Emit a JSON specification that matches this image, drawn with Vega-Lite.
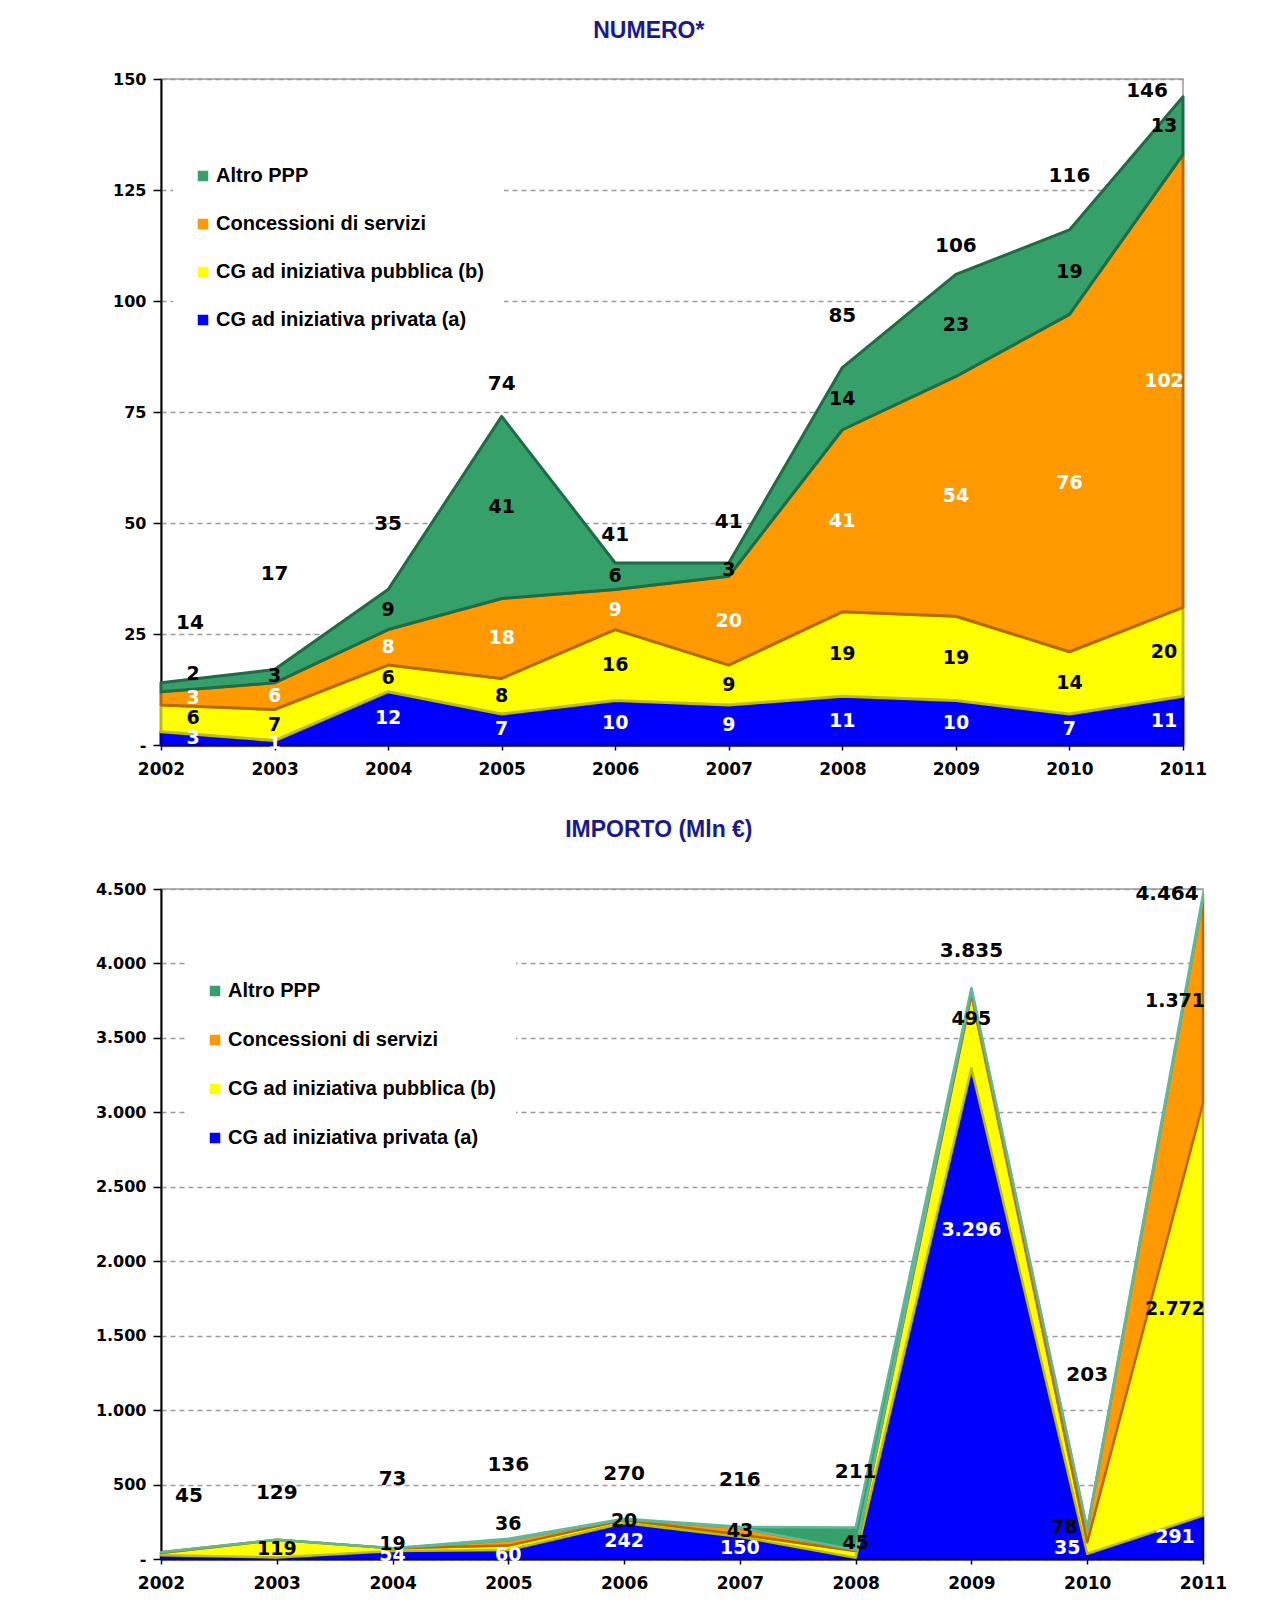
{
  "$schema": "https://vega.github.io/schema/vega-lite/v6.json",
  "padding": {"left": 90, "top": 18, "right": 20, "bottom": 10},
  "background": "white",
  "config": {
    "locale": {"number": {"decimal": ",", "thousands": ".", "grouping": [3], "currency": ["", " €"]}},
    "view": {"stroke": "#9a9a9a", "strokeWidth": 1.5},
    "font": "Liberation Sans",
    "axis": {
      "domainColor": "black", "domainWidth": 2, "tickColor": "black", "tickSize": 8, "tickWidth": 1.5,
      "labelFont": "DejaVu Sans", "labelFontWeight": "bold", "labelFontSize": 16, "labelColor": "black", "labelPadding": 7,
      "labelOverlap": false,
      "gridColor": "#9a9a9a", "gridDash": [5, 4], "gridWidth": 1.3, "title": null
    },
    "title": {"font": "Liberation Sans", "fontSize": 23, "fontWeight": "bold", "color": "#1A1A8C", "frame": "bounds", "anchor": "middle"},
    "legend": {
      "orient": "none", "title": null, "symbolType": "square", "symbolSize": 110, "symbolStrokeWidth": 0,
      "labelFont": "Liberation Sans", "labelFontWeight": "bold", "labelFontSize": 20, "labelColor": "black",
      "fillColor": "white", "padding": 20, "labelOffset": 3, "labelLimit": 500
    }
  },
  "datasets": {
    "numero": [
      {"anno": 2002, "serie": "CG ad iniziativa privata (a)", "valore": 3},
      {"anno": 2002, "serie": "CG ad iniziativa pubblica (b)", "valore": 6},
      {"anno": 2002, "serie": "Concessioni di servizi", "valore": 3},
      {"anno": 2002, "serie": "Altro PPP", "valore": 2},
      {"anno": 2003, "serie": "CG ad iniziativa privata (a)", "valore": 1},
      {"anno": 2003, "serie": "CG ad iniziativa pubblica (b)", "valore": 7},
      {"anno": 2003, "serie": "Concessioni di servizi", "valore": 6},
      {"anno": 2003, "serie": "Altro PPP", "valore": 3},
      {"anno": 2004, "serie": "CG ad iniziativa privata (a)", "valore": 12},
      {"anno": 2004, "serie": "CG ad iniziativa pubblica (b)", "valore": 6},
      {"anno": 2004, "serie": "Concessioni di servizi", "valore": 8},
      {"anno": 2004, "serie": "Altro PPP", "valore": 9},
      {"anno": 2005, "serie": "CG ad iniziativa privata (a)", "valore": 7},
      {"anno": 2005, "serie": "CG ad iniziativa pubblica (b)", "valore": 8},
      {"anno": 2005, "serie": "Concessioni di servizi", "valore": 18},
      {"anno": 2005, "serie": "Altro PPP", "valore": 41},
      {"anno": 2006, "serie": "CG ad iniziativa privata (a)", "valore": 10},
      {"anno": 2006, "serie": "CG ad iniziativa pubblica (b)", "valore": 16},
      {"anno": 2006, "serie": "Concessioni di servizi", "valore": 9},
      {"anno": 2006, "serie": "Altro PPP", "valore": 6},
      {"anno": 2007, "serie": "CG ad iniziativa privata (a)", "valore": 9},
      {"anno": 2007, "serie": "CG ad iniziativa pubblica (b)", "valore": 9},
      {"anno": 2007, "serie": "Concessioni di servizi", "valore": 20},
      {"anno": 2007, "serie": "Altro PPP", "valore": 3},
      {"anno": 2008, "serie": "CG ad iniziativa privata (a)", "valore": 11},
      {"anno": 2008, "serie": "CG ad iniziativa pubblica (b)", "valore": 19},
      {"anno": 2008, "serie": "Concessioni di servizi", "valore": 41},
      {"anno": 2008, "serie": "Altro PPP", "valore": 14},
      {"anno": 2009, "serie": "CG ad iniziativa privata (a)", "valore": 10},
      {"anno": 2009, "serie": "CG ad iniziativa pubblica (b)", "valore": 19},
      {"anno": 2009, "serie": "Concessioni di servizi", "valore": 54},
      {"anno": 2009, "serie": "Altro PPP", "valore": 23},
      {"anno": 2010, "serie": "CG ad iniziativa privata (a)", "valore": 7},
      {"anno": 2010, "serie": "CG ad iniziativa pubblica (b)", "valore": 14},
      {"anno": 2010, "serie": "Concessioni di servizi", "valore": 76},
      {"anno": 2010, "serie": "Altro PPP", "valore": 19},
      {"anno": 2011, "serie": "CG ad iniziativa privata (a)", "valore": 11},
      {"anno": 2011, "serie": "CG ad iniziativa pubblica (b)", "valore": 20},
      {"anno": 2011, "serie": "Concessioni di servizi", "valore": 102},
      {"anno": 2011, "serie": "Altro PPP", "valore": 13}
    ],
    "importo": [
      {"anno": 2002, "serie": "CG ad iniziativa privata (a)", "valore": 25, "etichetta": false},
      {"anno": 2002, "serie": "CG ad iniziativa pubblica (b)", "valore": 15, "etichetta": false},
      {"anno": 2002, "serie": "Concessioni di servizi", "valore": 5, "etichetta": false},
      {"anno": 2002, "serie": "Altro PPP", "valore": 0, "etichetta": false},
      {"anno": 2003, "serie": "CG ad iniziativa privata (a)", "valore": 10, "etichetta": false},
      {"anno": 2003, "serie": "CG ad iniziativa pubblica (b)", "valore": 119, "etichetta": true},
      {"anno": 2003, "serie": "Concessioni di servizi", "valore": 0, "etichetta": false},
      {"anno": 2003, "serie": "Altro PPP", "valore": 0, "etichetta": false},
      {"anno": 2004, "serie": "CG ad iniziativa privata (a)", "valore": 54, "etichetta": true},
      {"anno": 2004, "serie": "CG ad iniziativa pubblica (b)", "valore": 19, "etichetta": true},
      {"anno": 2004, "serie": "Concessioni di servizi", "valore": 0, "etichetta": false},
      {"anno": 2004, "serie": "Altro PPP", "valore": 0, "etichetta": false},
      {"anno": 2005, "serie": "CG ad iniziativa privata (a)", "valore": 60, "etichetta": true},
      {"anno": 2005, "serie": "CG ad iniziativa pubblica (b)", "valore": 30, "etichetta": false},
      {"anno": 2005, "serie": "Concessioni di servizi", "valore": 36, "etichetta": true},
      {"anno": 2005, "serie": "Altro PPP", "valore": 10, "etichetta": false},
      {"anno": 2006, "serie": "CG ad iniziativa privata (a)", "valore": 242, "etichetta": true},
      {"anno": 2006, "serie": "CG ad iniziativa pubblica (b)", "valore": 20, "etichetta": true},
      {"anno": 2006, "serie": "Concessioni di servizi", "valore": 5, "etichetta": false},
      {"anno": 2006, "serie": "Altro PPP", "valore": 3, "etichetta": false},
      {"anno": 2007, "serie": "CG ad iniziativa privata (a)", "valore": 150, "etichetta": true},
      {"anno": 2007, "serie": "CG ad iniziativa pubblica (b)", "valore": 15, "etichetta": false},
      {"anno": 2007, "serie": "Concessioni di servizi", "valore": 43, "etichetta": true},
      {"anno": 2007, "serie": "Altro PPP", "valore": 8, "etichetta": false},
      {"anno": 2008, "serie": "CG ad iniziativa privata (a)", "valore": 8, "etichetta": false},
      {"anno": 2008, "serie": "CG ad iniziativa pubblica (b)", "valore": 45, "etichetta": true},
      {"anno": 2008, "serie": "Concessioni di servizi", "valore": 8, "etichetta": false},
      {"anno": 2008, "serie": "Altro PPP", "valore": 150, "etichetta": false},
      {"anno": 2009, "serie": "CG ad iniziativa privata (a)", "valore": 3296, "etichetta": true},
      {"anno": 2009, "serie": "CG ad iniziativa pubblica (b)", "valore": 495, "etichetta": true},
      {"anno": 2009, "serie": "Concessioni di servizi", "valore": 30, "etichetta": false},
      {"anno": 2009, "serie": "Altro PPP", "valore": 14, "etichetta": false},
      {"anno": 2010, "serie": "CG ad iniziativa privata (a)", "valore": 35, "etichetta": true},
      {"anno": 2010, "serie": "CG ad iniziativa pubblica (b)", "valore": 78, "etichetta": true},
      {"anno": 2010, "serie": "Concessioni di servizi", "valore": 85, "etichetta": false},
      {"anno": 2010, "serie": "Altro PPP", "valore": 5, "etichetta": false},
      {"anno": 2011, "serie": "CG ad iniziativa privata (a)", "valore": 291, "etichetta": true},
      {"anno": 2011, "serie": "CG ad iniziativa pubblica (b)", "valore": 2772, "etichetta": true},
      {"anno": 2011, "serie": "Concessioni di servizi", "valore": 1371, "etichetta": true},
      {"anno": 2011, "serie": "Altro PPP", "valore": 30, "etichetta": false}
    ]
  },
  "columns": 1,
  "spacing": 39,
  "resolve": {"scale": {"color": "independent", "stroke": "independent"}, "legend": {"color": "independent"}},
  "concat": [
    {
      "title": {"text": "NUMERO*", "offset": 28.5},
      "width": 1022,
      "height": 666,
      "data": {"name": "numero"},
      "transform": [
        {"calculate": "indexof(['CG ad iniziativa privata (a)','CG ad iniziativa pubblica (b)','Concessioni di servizi','Altro PPP'], datum.serie)", "as": "ordine"},
        {"stack": "valore", "groupby": ["anno"], "sort": [{"field": "ordine"}], "as": ["v0", "v1"]},
        {"calculate": "(datum.v0 + datum.v1) / 2", "as": "mezzo"},
        {"joinaggregate": [{"op": "sum", "field": "valore", "as": "totale"}], "groupby": ["anno"]}
      ],
      "layer": [
        {
          "mark": {"type": "area", "strokeWidth": 3, "strokeJoin": "round", "opacity": 1},
          "encoding": {
            "x": {"field": "anno", "type": "quantitative", "scale": {"domain": [2002, 2011], "nice": false, "zero": false},
                  "axis": {"values": [2002, 2003, 2004, 2005, 2006, 2007, 2008, 2009, 2010, 2011], "format": "d", "grid": false, "labelFlush": false, "labelFontSize": 17, "tickSize": 5, "labelPadding": 11}},
            "y": {"field": "v1", "type": "quantitative", "scale": {"domain": [0, 150], "nice": false},
                  "axis": {"values": [0, 25, 50, 75, 100, 125, 150], "labelExpr": "datum.value == 0 ? '-' : datum.label", "minExtent": 70, "maxExtent": 70}},
            "y2": {"field": "v0"},
            "color": {"field": "serie", "type": "nominal",
                      "scale": {"domain": ["Altro PPP", "Concessioni di servizi", "CG ad iniziativa pubblica (b)", "CG ad iniziativa privata (a)"],
                                "range": ["#36A06A", "#FF9900", "#FFFF00", "#0000FF"]},
                      "legend": {"legendX": 12, "legendY": 67, "rowPadding": 28}},
            "stroke": {"field": "serie", "type": "nominal",
                       "scale": {"domain": ["Altro PPP", "Concessioni di servizi", "CG ad iniziativa pubblica (b)", "CG ad iniziativa privata (a)"],
                                 "range": ["#1E6B45", "#B86A00", "#BDBD00", "#0000A8"]},
                       "legend": null},
            "order": {"field": "ordine"}
          }
        },
        {
          "mark": {"type": "text", "font": "DejaVu Sans", "fontWeight": "bold", "fontSize": 19,
                   "dx": {"expr": "datum.anno == 2002 ? 32 : (datum.anno == 2011 ? -19 : 0)"},
                   "dy": {"expr": "datum.anno == 2002 && datum.ordine == 3 ? -13 : 0"}},
          "encoding": {
            "x": {"field": "anno", "type": "quantitative"},
            "y": {"field": "mezzo", "type": "quantitative"},
            "text": {"field": "valore", "type": "quantitative", "format": ",d"},
            "color": {"condition": {"test": "datum.serie == 'CG ad iniziativa privata (a)' || datum.serie == 'Concessioni di servizi'", "value": "white"}, "value": "black"}
          }
        },
        {
          "transform": [{"filter": "datum.ordine == 3"}],
          "mark": {"type": "text", "font": "DejaVu Sans", "fontWeight": "bold", "fontSize": 20, "color": "black",
                   "dx": {"expr": "datum.anno == 2002 ? 29 : (datum.anno == 2011 ? -36 : 0)"},
                   "dy": {"expr": "[-60, -96, -66, -32, -28, -41, -52, -28, -54, -6][datum.anno - 2002]"}},
          "encoding": {
            "x": {"field": "anno", "type": "quantitative"},
            "y": {"field": "v1", "type": "quantitative"},
            "text": {"field": "totale", "type": "quantitative", "format": ",d"}
          }
        }
      ]
    },
    {
      "title": {"text": "IMPORTO (Mln €)", "offset": 39.5},
      "width": 1042,
      "height": 670,
      "data": {"name": "importo"},
      "transform": [
        {"calculate": "indexof(['CG ad iniziativa privata (a)','CG ad iniziativa pubblica (b)','Concessioni di servizi','Altro PPP'], datum.serie)", "as": "ordine"},
        {"stack": "valore", "groupby": ["anno"], "sort": [{"field": "ordine"}], "as": ["v0", "v1"]},
        {"calculate": "(datum.v0 + datum.v1) / 2", "as": "mezzo"},
        {"joinaggregate": [{"op": "sum", "field": "valore", "as": "totale"}], "groupby": ["anno"]}
      ],
      "layer": [
        {
          "mark": {"type": "area", "strokeWidth": 2.5, "strokeJoin": "round", "opacity": 1},
          "encoding": {
            "x": {"field": "anno", "type": "quantitative", "scale": {"domain": [2002, 2011], "nice": false, "zero": false},
                  "axis": {"values": [2002, 2003, 2004, 2005, 2006, 2007, 2008, 2009, 2010, 2011], "format": "d", "grid": false, "labelFlush": false, "labelFontSize": 17, "tickSize": 5, "labelPadding": 11}},
            "y": {"field": "v1", "type": "quantitative", "scale": {"domain": [0, 4500], "nice": false},
                  "axis": {"values": [0, 500, 1000, 1500, 2000, 2500, 3000, 3500, 4000, 4500], "format": ",d", "labelExpr": "datum.value == 0 ? '-' : datum.label", "minExtent": 70, "maxExtent": 70}},
            "y2": {"field": "v0"},
            "color": {"field": "serie", "type": "nominal",
                      "scale": {"domain": ["Altro PPP", "Concessioni di servizi", "CG ad iniziativa pubblica (b)", "CG ad iniziativa privata (a)"],
                                "range": ["#36A06A", "#FF9900", "#FFFF00", "#0000FF"]},
                      "legend": {"legendX": 24, "legendY": 72, "rowPadding": 29}},
            "stroke": {"field": "serie", "type": "nominal",
                       "scale": {"domain": ["Altro PPP", "Concessioni di servizi", "CG ad iniziativa pubblica (b)", "CG ad iniziativa privata (a)"],
                                 "range": ["#5FB89A", "#B86A00", "#BDBD00", "#0000A8"]},
                       "legend": null},
            "order": {"field": "ordine"}
          }
        },
        {
          "transform": [{"filter": "datum.etichetta"}],
          "mark": {"type": "text", "font": "DejaVu Sans", "fontWeight": "bold", "fontSize": 19,
                   "dx": {"expr": "datum.anno == 2002 ? 28 : (datum.anno == 2011 ? -28 : (datum.anno == 2010 ? (datum.ordine == 1 ? -23 : -20) : 0))"},
                   "dy": {"expr": "datum.anno == 2010 ? (datum.ordine == 1 ? -21 : -8) : (datum.anno == 2004 && datum.ordine == 1 ? -6 : (datum.anno == 2005 && datum.ordine == 2 ? -19 : (datum.anno == 2008 ? -11 : (datum.anno == 2009 ? (datum.ordine == 0 ? -84 : -12) : 0))))"}},
          "encoding": {
            "x": {"field": "anno", "type": "quantitative"},
            "y": {"field": "mezzo", "type": "quantitative"},
            "text": {"field": "valore", "type": "quantitative", "format": ",d"},
            "color": {"condition": {"test": "datum.serie == 'CG ad iniziativa privata (a)'", "value": "white"}, "value": "black"}
          }
        },
        {
          "transform": [{"filter": "datum.ordine == 3"}],
          "mark": {"type": "text", "font": "DejaVu Sans", "fontWeight": "bold", "fontSize": 20, "color": "black",
                   "dx": {"expr": "datum.anno == 2002 ? 28 : (datum.anno == 2011 ? -36 : 0)"},
                   "dy": {"expr": "[-56, -47, -69, -74, -45, -47, -56, -37, -154, 0][datum.anno - 2002]"}},
          "encoding": {
            "x": {"field": "anno", "type": "quantitative"},
            "y": {"field": "v1", "type": "quantitative"},
            "text": {"field": "totale", "type": "quantitative", "format": ",d"}
          }
        }
      ]
    }
  ]
}
